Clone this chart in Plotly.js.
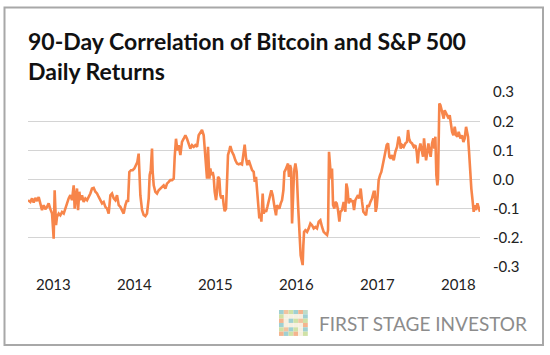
<!DOCTYPE html>
<html>
<head>
<meta charset="utf-8">
<script src="https://cdn.plot.ly/plotly-3.0.1.min.js"></script>
<style>
html,body{margin:0;padding:0;background:#fff;}
#chart{width:550px;height:355px;}
</style>
</head>
<body>
<div id="chart"></div>
<script>
// Decimal-year dates and 90-day correlation values
const dates = [
2012.687,2012.716,2012.737,2012.757,2012.778,2012.798,2012.819,2012.840,2012.860,2012.881,
2012.901,2012.922,2012.942,2012.963,2012.984,2013.004,2013.016,2013.033,2013.045,2013.066,
2013.086,2013.107,2013.128,2013.148,2013.169,2013.189,2013.210,2013.230,2013.251,2013.263,
2013.280,2013.292,2013.305,2013.321,2013.333,2013.354,2013.374,2013.395,2013.416,2013.436,
2013.457,2013.477,2013.498,2013.519,2013.539,2013.560,2013.580,2013.601,2013.621,2013.642,
2013.663,2013.683,2013.704,2013.724,2013.745,2013.765,2013.786,2013.807,
2013.827,2013.848,2013.868,2013.889,2013.909,2013.922,2013.938,2013.959,2013.979,2014.000,
2014.021,2014.037,2014.053,2014.062,2014.074,2014.095,2014.115,2014.136,2014.156,2014.177,
2014.189,2014.202,2014.218,2014.226,2014.239,2014.259,2014.280,2014.300,2014.321,2014.342,
2014.362,2014.383,2014.403,2014.424,2014.444,2014.465,2014.486,2014.498,2014.514,2014.531,
2014.547,2014.568,2014.588,2014.609,2014.630,2014.650,2014.671,2014.691,2014.712,2014.733,
2014.753,2014.774,2014.794,2014.815,2014.835,2014.856,2014.868,2014.885,2014.897,
2014.909,2014.926,2014.938,2014.951,2014.967,2014.979,2014.992,2015.008,2015.021,2015.033,
2015.049,2015.062,2015.074,2015.090,2015.103,2015.115,2015.132,2015.144,2015.156,2015.173,
2015.185,2015.206,2015.226,2015.247,2015.268,2015.288,2015.309,2015.329,2015.350,2015.362,
2015.379,2015.395,2015.412,2015.432,2015.453,2015.473,2015.486,2015.502,2015.514,2015.527,
2015.543,2015.556,2015.568,2015.584,2015.597,2015.609,2015.626,2015.642,2015.658,2015.675,
2015.691,2015.708,2015.720,2015.733,2015.749,2015.761,2015.774,2015.790,2015.807,2015.823,
2015.840,2015.852,2015.864,2015.881,2015.897,2015.909,2015.922,2015.934,2015.947,2015.959,
2015.971,2015.988,2016.004,2016.021,2016.033,
2016.045,2016.053,2016.070,2016.078,2016.086,2016.095,2016.111,2016.132,2016.152,2016.173,
2016.193,2016.214,2016.235,2016.255,2016.276,2016.296,2016.317,2016.337,2016.358,2016.379,
2016.391,2016.403,2016.416,2016.428,2016.440,2016.453,2016.469,2016.481,2016.498,2016.514,
2016.531,2016.543,2016.564,2016.584,2016.605,2016.617,2016.630,2016.646,2016.663,2016.679,
2016.695,2016.712,2016.728,2016.745,2016.761,2016.778,2016.794,2016.811,2016.827,2016.844,
2016.860,2016.877,2016.893,2016.914,2016.934,2016.955,2016.967,2016.979,2016.992,2017.004,
2017.016,2017.033,2017.049,2017.066,2017.082,2017.099,2017.115,2017.132,
2017.148,2017.165,2017.181,2017.202,2017.222,2017.243,2017.263,2017.276,2017.288,2017.305,
2017.325,2017.346,2017.366,2017.379,2017.391,2017.407,2017.428,2017.449,2017.469,2017.486,
2017.498,2017.510,2017.531,2017.551,2017.564,2017.576,2017.588,2017.601,2017.617,2017.630,
2017.646,2017.658,2017.675,2017.691,2017.704,2017.716,2017.728,2017.741,2017.749,2017.757,
2017.765,2017.778,2017.790,2017.807,2017.819,2017.831,2017.848,2017.864,2017.881,2017.893,
2017.905,2017.922,2017.938,2017.955,2017.971,2017.988,2018.004,2018.025,2018.045,2018.062,
2018.078,2018.095,2018.107,2018.119,2018.132,2018.144,2018.152,2018.160,2018.177,2018.189,
2018.202,2018.218,2018.235,2018.251,2018.267
];
const corr = [
-0.071,-0.077,-0.065,-0.079,-0.063,-0.074,-0.060,-0.082,-0.105,-0.088,
-0.102,-0.094,-0.082,-0.102,-0.117,-0.203,-0.037,-0.157,-0.128,-0.117,
-0.123,-0.112,-0.117,-0.100,-0.077,-0.065,-0.054,-0.071,-0.020,-0.100,
-0.054,-0.031,-0.105,-0.042,-0.071,-0.054,-0.077,-0.065,-0.071,-0.060,
-0.048,-0.031,-0.029,-0.042,-0.048,-0.060,-0.071,-0.082,-0.077,-0.094,
-0.100,-0.117,-0.054,-0.048,-0.065,-0.071,-0.054,-0.088,
-0.094,-0.105,-0.117,-0.088,-0.071,-0.077,0.026,0.032,0.032,0.038,
0.049,0.060,0.089,0.026,-0.054,-0.105,-0.122,-0.126,-0.117,-0.065,
0.015,0.032,0.106,0.026,-0.020,-0.042,-0.048,-0.037,-0.031,-0.025,
-0.020,-0.031,-0.014,-0.008,-0.002,-0.002,0.003,0.078,0.140,0.100,
0.118,0.084,0.129,0.140,0.152,0.140,0.124,0.106,0.118,0.112,
0.118,0.112,0.152,0.164,0.170,0.152,0.112,0.060,0.003,
0.112,0.003,0.038,0.015,0.026,0.009,-0.042,-0.071,-0.042,0.009,
0.003,-0.054,-0.065,-0.054,-0.088,-0.109,-0.100,0.038,0.084,0.101,
0.115,0.095,0.084,0.066,0.055,0.052,0.055,0.052,0.095,0.120,
0.072,0.049,0.066,0.049,0.032,0.026,-0.008,0.009,-0.031,-0.065,
-0.134,-0.117,-0.145,-0.048,-0.117,-0.105,-0.111,-0.094,-0.077,-0.054,
-0.037,-0.054,-0.082,-0.100,-0.123,-0.088,-0.094,-0.100,-0.082,-0.071,
-0.037,0.026,0.032,0.043,0.055,0.009,0.049,0.038,-0.151,-0.065,
0.026,0.055,0.026,-0.088,-0.145,
-0.180,-0.260,-0.283,-0.294,-0.227,-0.180,-0.174,-0.180,-0.168,-0.151,
-0.157,-0.168,-0.163,-0.168,-0.145,-0.140,-0.163,-0.180,-0.186,-0.191,
-0.174,0.095,0.049,0.003,0.038,-0.088,-0.100,-0.077,-0.082,-0.105,
-0.145,-0.111,-0.105,-0.077,-0.111,-0.014,-0.031,-0.082,-0.065,-0.077,
-0.071,-0.105,-0.071,-0.060,-0.054,-0.065,-0.031,-0.077,-0.111,-0.117,
-0.123,-0.088,-0.094,-0.077,-0.065,-0.042,-0.042,-0.111,-0.094,-0.054,
-0.002,0.015,0.026,0.049,0.078,0.095,0.118,0.124,
0.078,0.072,0.084,0.066,0.095,0.112,0.147,0.135,0.106,0.118,
0.112,0.124,0.129,0.170,0.141,0.129,0.124,0.112,0.118,0.095,
0.055,0.095,0.124,0.101,0.078,0.141,0.084,0.066,0.095,0.124,
0.095,0.078,0.124,0.141,0.106,0.147,0.015,-0.020,0.003,0.095,
0.261,0.256,0.244,0.221,0.209,0.238,0.227,0.221,0.209,0.221,
0.198,0.164,0.152,0.181,0.152,0.147,0.164,0.141,0.152,0.129,
0.141,0.181,0.164,0.147,0.095,0.020,-0.020,-0.031,-0.077,-0.111,
-0.088,-0.105,-0.082,-0.100,-0.111
];
const yearTicks = [2013, 2014, 2015, 2016, 2017, 2018];
const yearLabels = ['2013', '2014', '2015', '2016', '2017', '2018'];
const yTicks = [0.3, 0.2, 0.1, 0.0, -0.1, -0.2, -0.3];
const yLabels = ['0.3', '0.2', '0.1', '0.0', '-0.1', '-0.2.', '-0.3'];

const W = 550, H = 355;
const M = {l: 28, r: 70, t: 92, b: 88};
const PW = W - M.l - M.r, PH = H - M.t - M.b;
const px = x => (x - M.l) / PW;
const py = y => (H - M.b - y) / PH;

const shapes = [];
// outer frame
shapes.push({type: 'rect', xref: 'paper', yref: 'paper',
  x0: px(4.5), x1: px(543), y0: py(345), y1: py(7.5),
  line: {color: '#a8a8a8', width: 2}, fillcolor: 'rgba(0,0,0,0)', layer: 'below'});
// logo mosaic
const mosaic = [
  ['#9fd0d2','#f2c3a0','#cfe1a6','#9fd0d2','#f4b48e','#bfdcc8'],
  ['#cfe1a6','#f6f0e0','#f6f0e0','#f6f0e0','#f6f0e0','#9fd0d2'],
  ['#f4b48e','#f6f0e0','#9fd0d2','#cfe1a6','#f2c3a0','#cfe1a6'],
  ['#9fd0d2','#f6f0e0','#f6f0e0','#f6f0e0','#f6f0e0','#f4b48e'],
  ['#cfe1a6','#f2c3a0','#9fd0d2','#cfe1a6','#f6f0e0','#9fd0d2'],
  ['#f4b48e','#9fd0d2','#cfe1a6','#f4b48e','#f6f0e0','#cfe1a6']
];
const mx0 = 279, my0 = 310, ts = 4.8;
mosaic.forEach((row, r) => row.forEach((c, k) => {
  shapes.push({type: 'rect', xref: 'paper', yref: 'paper',
    x0: px(mx0 + k * ts), x1: px(mx0 + (k + 1) * ts),
    y0: py(my0 + (r + 1) * ts * 0.9), y1: py(my0 + r * ts * 0.9),
    line: {width: 0}, fillcolor: c});
}));

const trace = {
  x: dates, y: corr, type: 'scatter', mode: 'lines',
  line: {color: '#f7854a', width: 2.6}, hoverinfo: 'skip'
};

const layout = {
  width: W, height: H,
  margin: M,
  paper_bgcolor: '#ffffff', plot_bgcolor: '#ffffff',
  showlegend: false,
  font: {family: 'Lato, "DejaVu Sans", sans-serif', color: '#222'},
  title: {
    text: '90-Day Correlation of Bitcoin and S&P 500<br>Daily Returns',
    xref: 'container', yref: 'container',
    x: 28 / W, xanchor: 'left', y: 1 - 50 / H, yanchor: 'top',
    font: {family: 'Lato, sans-serif', size: 23, color: '#111', weight: 'bold'}
  },
  xaxis: {
    type: 'linear', range: [2012.687, 2018.267],
    tickmode: 'array', tickvals: yearTicks, ticktext: yearLabels,
    showgrid: false, zeroline: false, showline: false, ticks: '',
    ticklabelstandoff: 7,
    tickfont: {family: 'Lato, sans-serif', size: 15, color: '#222'}
  },
  yaxis: {
    range: [-0.3005, 0.3005], side: 'right',
    tickmode: 'array', tickvals: yTicks, ticktext: yLabels,
    showgrid: true, gridcolor: '#d4d4d4', gridwidth: 1,
    zeroline: false, showline: false, ticks: '',
    ticklabelstandoff: 12,
    tickfont: {family: 'Lato, sans-serif', size: 15, color: '#222'}
  },
  shapes: shapes,
  annotations: [{
    text: 'FIRST STAGE INVESTOR', xref: 'paper', yref: 'paper',
    x: px(529), xanchor: 'right', y: py(323), yanchor: 'middle',
    showarrow: false,
    font: {family: 'Lato, sans-serif', size: 19, color: '#8c8c8c'}
  }]
};

Plotly.newPlot('chart', [trace], layout, {displayModeBar: false, staticPlot: true});
</script>
</body>
</html>
